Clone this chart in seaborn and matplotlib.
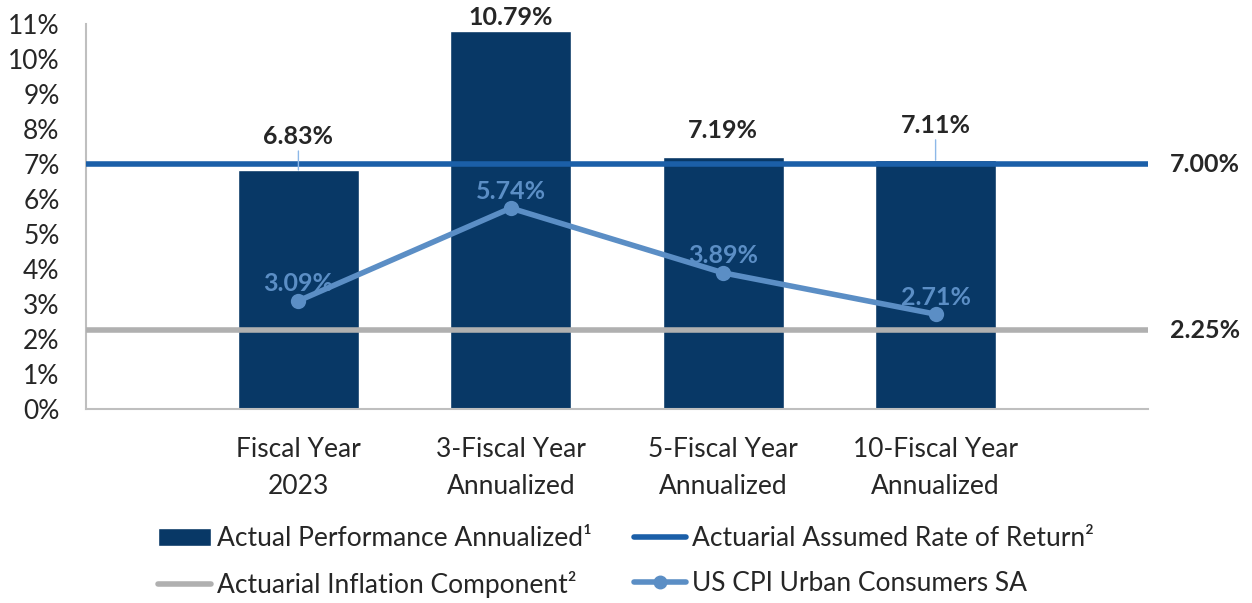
import matplotlib
matplotlib.use('Agg')
import matplotlib.pyplot as plt
from matplotlib.lines import Line2D
from matplotlib.patches import Patch
import seaborn as sns

# data
categories = ['Fiscal Year\n2023', '3-Fiscal Year\nAnnualized', '5-Fiscal Year\nAnnualized', '10-Fiscal Year\nAnnualized']
actual = [6.83, 10.79, 7.19, 7.11]
cpi = [3.09, 5.74, 3.89, 2.71]
assumed_return = 7.00
inflation = 2.25

bar_color = '#083866'
return_color = '#1B5FA8'
infl_color = '#B0B0B0'
cpi_color = '#5B8EC5'

sns.set_style('white')
plt.rcParams['font.family'] = ['Lato', 'DejaVu Sans']

fig = plt.figure(figsize=(12.52, 6.03), dpi=100)
axes = fig.add_axes([86/1252, 1 - 409/603, (1148 - 86)/1252, (409 - 24)/603])

positions = list(range(len(categories)))
sns.barplot(x=positions, y=actual, color=bar_color, width=0.57, saturation=1,
            native_scale=True, ax=axes, zorder=2)
axes.axhline(assumed_return, color=return_color, lw=4, zorder=3)
axes.axhline(inflation, color=infl_color, lw=4, zorder=3)
sns.lineplot(x=positions, y=cpi, color=cpi_color, lw=4, marker='o', markersize=11,
             markeredgewidth=0, ax=axes, zorder=4)

axes.set_xlim(-1, 4)
axes.set_ylim(0, 11)
axes.set_yticks(range(0, 12))
axes.set_yticklabels([f'{v}%' for v in range(0, 12)], fontsize=19)
axes.set_xticks(positions)
axes.set_xticklabels(categories, fontsize=19, linespacing=1.6)
axes.tick_params(axis='y', length=0, pad=19)
axes.tick_params(axis='x', length=0, pad=20)
for side in ['top', 'right']:
    axes.spines[side].set_visible(False)
for side in ['left', 'bottom']:
    axes.spines[side].set_color('#BFBFBF')
    axes.spines[side].set_linewidth(1.5)

# bar labels; first and last sit off the bar with a leader line
label_offset = [16, 2, 11, 17]
leader = [True, False, False, True]
for x, v, off, lead in zip(positions, actual, label_offset, leader):
    arrow = dict(arrowstyle='-', color='#8DB8E8', lw=1, shrinkA=0, shrinkB=0) if lead else None
    axes.annotate(f'{v:.2f}%', xy=(x, v), xytext=(0, off), textcoords='offset points',
                  ha='center', va='bottom', fontsize=18, fontweight='bold',
                  arrowprops=arrow, zorder=5)

for x, v in zip(positions, cpi):
    axes.annotate(f'{v:.2f}%', xy=(x, v), xytext=(0, 4), textcoords='offset points',
                  ha='center', va='bottom', fontsize=18, fontweight='bold', color=cpi_color, zorder=5)

# right-hand labels for reference lines
for v in [assumed_return, inflation]:
    axes.annotate(f'{v:.2f}%', xy=(1, v), xycoords=('axes fraction', 'data'),
                  xytext=(16, 0), textcoords='offset points', ha='left', va='center',
                  fontsize=18, fontweight='bold', annotation_clip=False)

# legend fills column-wise, so order entries to read row by row
handles = [
    Patch(facecolor=bar_color, label='Actual Performance Annualized¹'),
    Line2D([], [], color=infl_color, lw=4, label='Actuarial Inflation Component²'),
    Line2D([], [], color=return_color, lw=4, label='Actuarial Assumed Rate of Return²'),
    Line2D([], [], color=cpi_color, lw=4, marker='o', markersize=9, label='US CPI Urban Consumers SA'),
]
fig.legend(handles=handles, ncol=2, loc='lower center', bbox_to_anchor=(0.5, -0.014),
           frameon=False, fontsize=19, handlelength=2.0, handletextpad=0.2,
           columnspacing=1.6, labelspacing=0.75, borderpad=0)

fig.savefig('out.png', dpi=100)
